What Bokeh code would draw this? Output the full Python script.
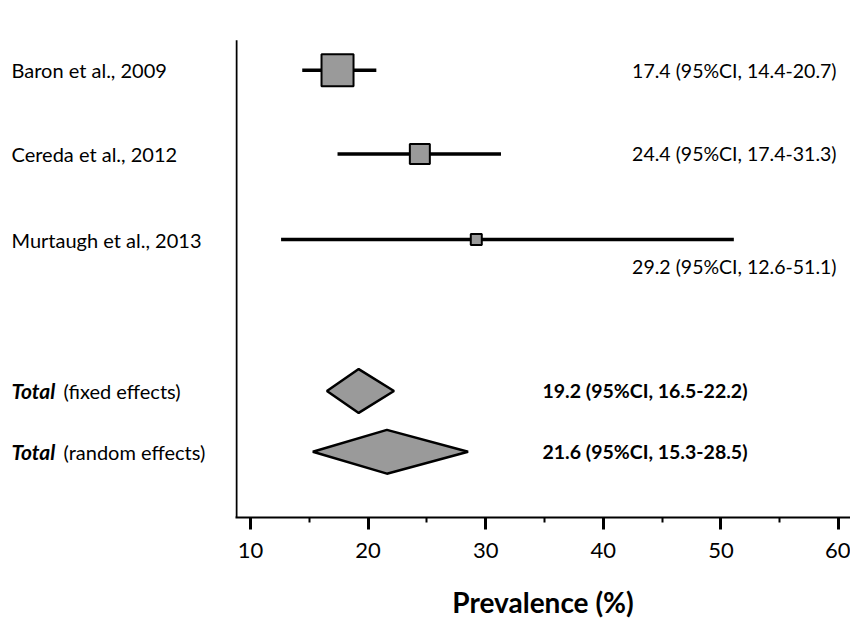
from bokeh.plotting import figure
from bokeh.layouts import row
from bokeh.models import Range1d, FixedTicker, ColumnDataSource
from bokeh.core.properties import value
from bokeh.embed import file_html
from bokeh.resources import INLINE

# ---- data ----
studies = ["Baron et al., 2009", "Cereda et al., 2012", "Murtaugh et al., 2013"]
study_est = [17.4, 24.4, 29.2]
study_lo = [14.4, 17.4, 12.6]
study_hi = [20.7, 31.3, 51.1]

totals = ["fixed effects", "random effects"]
total_est = [19.2, 21.6]
total_lo = [16.5, 15.3]
total_hi = [22.2, 28.5]

x_ticks = [10, 20, 30, 40, 50, 60]
x_minor = [15, 25, 35, 45, 55]
x_title = "Prevalence (%)"

# ---- layout (y in pixel-like units measured up from the x axis) ----
study_y = [449, 365, 279]
total_y = [127, 66]
box_px = [32, 20, 11]
diamond_half = 22
FILL = "#9a9a9a"
FONT = "Lato"
W, H = 850, 621
LEFT_W = 235
AXIS_PAGE_Y = 519
PX_PER_UNIT = 11.76
X10_PAGE = 250


def px_to_x(px):
    return 10 + (px - X10_PAGE) / PX_PER_UNIT


y_range = Range1d(0, AXIS_PAGE_Y)

# ---- left panel: row labels ----
left = figure(width=LEFT_W, height=H, output_backend="svg", toolbar_location=None,
              x_range=Range1d(px_to_x(0), px_to_x(LEFT_W)), y_range=y_range,
              x_axis_type=None, y_axis_type=None,
              min_border_left=0, min_border_right=0, min_border_top=0,
              min_border_bottom=H - AXIS_PAGE_Y)
left.outline_line_color = None
left.grid.visible = False

LEFT_X = px_to_x(11)
left.text(x=[LEFT_X] * 3, y=study_y, text=studies, text_font=value(FONT),
          text_font_size="20px", text_baseline="middle", text_align="left", text_color="black")
left.text(x=[LEFT_X] * 2, y=total_y, text=["Total"] * 2, text_font=value(FONT),
          text_font_size="21px", text_font_style="bold italic", text_baseline="middle",
          text_align="left", text_color="black")
left.text(x=[px_to_x(63)] * 2, y=total_y, text=[f"({t})" for t in totals],
          text_font=value(FONT), text_font_size="20px", text_baseline="middle",
          text_align="left", text_color="black")

# ---- main panel: forest plot ----
p = figure(width=W - LEFT_W, height=H, output_backend="svg", toolbar_location=None,
           x_range=Range1d(px_to_x(LEFT_W), px_to_x(W)), y_range=y_range,
           min_border_left=0, min_border_right=0, min_border_top=0,
           min_border_bottom=H - AXIS_PAGE_Y)
p.outline_line_color = None
p.xgrid.visible = False
p.ygrid.visible = False
p.yaxis.visible = False
p.background_fill_color = "white"
p.border_fill_color = "white"

p.xaxis.ticker = FixedTicker(ticks=x_ticks, minor_ticks=x_minor)
p.xaxis.axis_line_color = "black"
p.xaxis.axis_line_width = 2
p.xaxis.major_tick_in = 0
p.xaxis.major_tick_out = 12
p.xaxis.minor_tick_in = 0
p.xaxis.minor_tick_out = 5
p.xaxis.major_tick_line_width = 3
p.xaxis.minor_tick_line_width = 2
p.xaxis.major_tick_line_color = "black"
p.xaxis.minor_tick_line_color = "black"
p.xaxis.major_label_standoff = 13
p.xaxis.major_label_text_font = FONT
p.xaxis.major_label_text_font_size = "22px"
p.xaxis.major_label_text_color = "black"
p.xaxis.axis_label = x_title
p.xaxis.axis_label_text_font = FONT
p.xaxis.axis_label_text_font_size = "28px"
p.xaxis.axis_label_text_font_style = "bold"
p.xaxis.axis_label_text_color = "black"
p.xaxis.axis_label_standoff = 24

# vertical axis line at the left edge of the plotted area
p.segment(x0=[px_to_x(236)], y0=[0], x1=[px_to_x(236)], y1=[AXIS_PAGE_Y - 40],
          line_width=2, line_color="black")

# whiskers + boxes
src = ColumnDataSource(dict(lo=study_lo, hi=study_hi, est=study_est, y=study_y, s=box_px))
p.segment(x0="lo", x1="hi", y0="y", y1="y", source=src, line_width=3.5, line_color="black")
p.rect(x="est", y="y", width="s", height="s", width_units="screen", height_units="screen",
       source=src, fill_color=FILL, line_color="black", line_width=2)

# diamonds
xs = [[lo, e, hi, e] for lo, e, hi in zip(total_lo, total_est, total_hi)]
ys = [[y, y + diamond_half, y, y - diamond_half] for y in total_y]
p.patches(xs=xs, ys=ys, fill_color=FILL, line_color="black", line_width=2.5)

# value labels
FS = "19.5px"
label_offsets = [0, 0, -27]
p.text(x=[px_to_x(836)] * 3, y=[y + o for y, o in zip(study_y, label_offsets)],
       text=[f"{e} (95%CI, {lo}-{hi})" for e, lo, hi in zip(study_est, study_lo, study_hi)],
       text_font=value(FONT), text_font_size=FS, text_baseline="middle",
       text_align="right", text_color="black")
p.text(x=[px_to_x(542)] * 2, y=total_y,
       text=[f"{e} (95%CI, {lo}-{hi})" for e, lo, hi in zip(total_est, total_lo, total_hi)],
       text_font=value(FONT), text_font_size=FS, text_font_style="bold",
       text_baseline="middle", text_align="left", text_color="black")

layout = row(left, p, spacing=0)
open("out.html", "w").write(file_html(layout, INLINE))
